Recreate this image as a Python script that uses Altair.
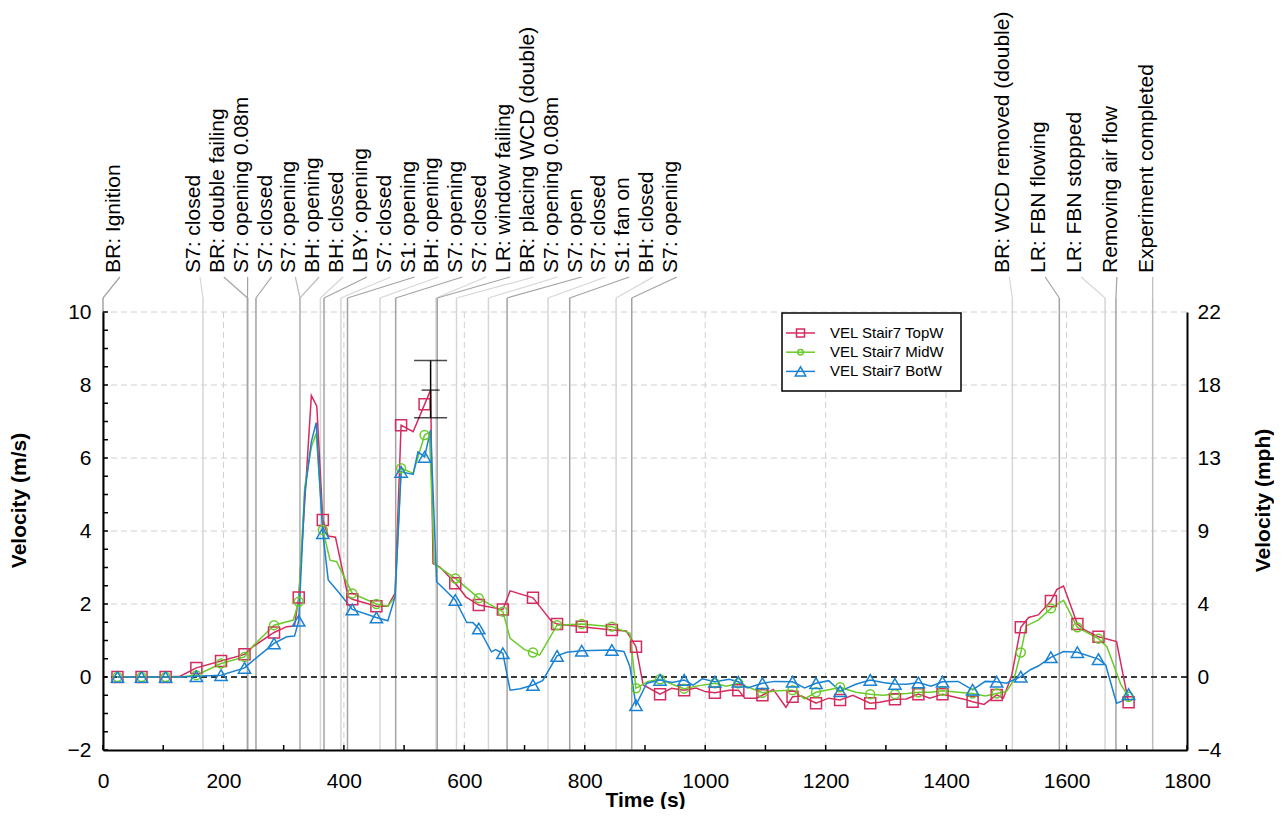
import altair as alt
import pandas as pd

# ---------------- data ----------------
series_names = ["VEL Stair7 TopW", "VEL Stair7 MidW", "VEL Stair7 BotW"]

top_t = [24, 64, 104, 128, 155, 196, 235, 249, 284, 305, 318, 325, 346, 355, 365, 374, 386, 407, 414, 454,
         473, 485, 495, 515, 534, 544, 548, 559, 585, 603, 624, 664, 676, 714, 745, 754, 795, 845, 869, 885,
         897, 925, 944, 965, 985, 1000, 1016, 1040, 1055, 1066, 1085, 1095, 1113, 1134, 1145, 1160, 1184, 1205, 1224, 1245,
         1274, 1290, 1315, 1334, 1354, 1373, 1394, 1428, 1444, 1463, 1484, 1495, 1509, 1524, 1537, 1553, 1574, 1584, 1595, 1618,
         1630, 1653, 1683, 1694, 1703]
top_v = [0, 0, 0, 0.02, 0.25, 0.44, 0.62, 0.83, 1.22, 1.38, 1.40, 2.18, 7.71, 7.42, 4.30, 3.86, 3.83, 2.20, 2.13, 1.94,
         1.94, 2.30, 6.90, 6.72, 7.47, 7.86, 3.11, 3.02, 2.57, 2.19, 1.97, 1.85, 2.36, 2.17, 1.52, 1.45, 1.38, 1.29, 1.26, 0.83,
         -0.22, -0.47, -0.31, -0.36, -0.30, -0.40, -0.43, -0.36, -0.36, -0.58, -0.58, -0.50, -0.34, -0.83, -0.54, -0.52, -0.72, -0.58, -0.63, -0.50,
         -0.72, -0.69, -0.61, -0.60, -0.47, -0.58, -0.47, -0.60, -0.68, -0.75, -0.49, -0.58, 0.05, 1.36, 1.63, 1.70, 2.08, 2.40, 2.49, 1.45,
         1.29, 1.10, 0.97, 0.05, -0.69]

mid_t = [24, 64, 104, 128, 155, 196, 235, 249, 284, 316, 325, 335, 346, 354, 365, 377, 388, 414, 454, 473,
         485, 495, 515, 534, 542, 550, 585, 624, 664, 676, 700, 714, 725, 754, 795, 845, 875, 885, 905, 925,
         945, 965, 985, 1016, 1035, 1055, 1075, 1095, 1120, 1145, 1165, 1184, 1205, 1224, 1250, 1274, 1295, 1315, 1335, 1354,
         1375, 1394, 1420, 1444, 1465, 1484, 1500, 1512, 1524, 1533, 1553, 1574, 1595, 1618, 1653, 1667, 1690, 1703]
mid_v = [0, 0, 0, 0, 0.05, 0.37, 0.55, 0.85, 1.42, 1.56, 2.06, 5.20, 6.30, 6.68, 4.03, 3.20, 3.16, 2.29, 2.00, 1.94,
         2.20, 5.72, 5.58, 6.63, 6.70, 3.10, 2.70, 2.16, 1.79, 1.06, 0.75, 0.67, 0.60, 1.42, 1.45, 1.38, 1.20, -0.31, -0.12, -0.06,
         -0.20, -0.32, -0.25, -0.17, -0.25, -0.17, -0.30, -0.43, -0.38, -0.36, -0.60, -0.42, -0.35, -0.28, -0.42, -0.47, -0.50, -0.47, -0.45, -0.42,
         -0.42, -0.38, -0.42, -0.45, -0.52, -0.45, -0.40, -0.10, 0.67, 1.40, 1.56, 1.88, 2.10, 1.36, 1.05, 0.83, -0.20, -0.54]

bot_t = [24, 64, 104, 128, 155, 196, 235, 249, 284, 305, 318, 325, 335, 346, 354, 365, 374, 393, 414, 454,
         473, 485, 495, 515, 523, 534, 544, 554, 585, 604, 614, 624, 645, 652, 664, 676, 693, 714, 730, 754,
         770, 795, 845, 865, 875, 885, 903, 925, 945, 965, 980, 995, 1016, 1040, 1055, 1070, 1095, 1115, 1145, 1165,
         1184, 1205, 1224, 1250, 1274, 1295, 1315, 1335, 1354, 1375, 1394, 1420, 1444, 1465, 1484, 1500, 1524, 1540, 1553, 1574,
         1595, 1618, 1653, 1665, 1683, 1694, 1703]
bot_v = [0, 0, 0, 0, 0.02, 0.05, 0.25, 0.45, 0.92, 1.10, 1.12, 1.54, 5.03, 6.45, 6.97, 3.94, 2.66, 2.29, 1.85, 1.63,
         1.54, 2.20, 5.62, 5.55, 6.17, 6.03, 6.77, 2.61, 2.11, 1.49, 1.49, 1.33, 0.69, 0.75, 0.65, -0.36, -0.32, -0.22, -0.10, 0.58,
         0.68, 0.72, 0.74, 0.70, 0.28, -0.77, -0.17, -0.08, -0.15, -0.08, -0.22, -0.05, -0.13, -0.06, -0.13, -0.30, -0.17, -0.12, -0.13, -0.30,
         -0.17, -0.10, -0.39, -0.20, -0.08, -0.15, -0.19, -0.20, -0.15, -0.25, -0.13, -0.12, -0.35, -0.12, -0.13, -0.17, 0.01, 0.20, 0.30, 0.54,
         0.70, 0.68, 0.49, 0.33, -0.72, -0.65, -0.47]

marker_t = [24, 64, 104, 155, 196, 235, 284, 325, 365, 414, 454, 495, 534, 585, 624, 664, 714, 754, 795, 845,
            885, 925, 965, 1016, 1055, 1095, 1145, 1184, 1224, 1274, 1315, 1354, 1394, 1444, 1484, 1524, 1574, 1618, 1653, 1703]

# uncertainty bar on the TopW peak
err_t = [544]
err_mid = [7.86]
err_lo = [7.10]
err_hi = [8.67]

event_t = [0, 166, 240, 240, 254, 327, 327, 361, 367, 395, 406, 460, 486, 553, 555, 587, 640, 671, 739, 775, 852, 878,
           1510, 1588, 1664, 1682, 1743]
event_label = ["BR: Ignition", "S7: closed", "BR: double failing", "S7: opening 0.08m", "S7: closed", "S7: opening",
               "BH: opening", "BH: closed", "LBY: opening", "S7: closed", "S1: opening", "BH: opening", "S7: opening",
               "S7: closed", "LR: window failing", "BR: placing WCD (double)", "S7: opening 0.08m", "S7: open",
               "S7: closed", "S1: fan on", "BH: closed", "S7: opening", "BR: WCD removed (double)", "LR: FBN flowing",
               "LR: FBN stopped", "Removing air flow", "Experiment completed"]

x_ticks = list(range(0, 1801, 200))
y_ticks = list(range(-2, 11, 2))

# ---------------- styles ----------------
series_colors = ["#d42c5e", "#6acb2a", "#1a82d2"]
series_shapes = ["square", "circle", "triangle-up"]
series_sizes = [121, 80, 150]
legend_sizes = [64, 30, 110]
event_shade_code = "dldddmmldldldldlldldldldldm"
shade_map = {"d": "#a3a3a3", "m": "#bdbdbd", "l": "#d6d6d6"}
FONT = "Liberation Sans"
W, H = 1084, 438
LABEL_GAP = 39.6      # minimum spacing of event labels, in seconds
LABEL_MIN = 28        # leftmost label anchor, in seconds
LABEL_LEAD = 5        # labels of a group start slightly left of its first event
GROUP_BREAK = 150     # events further apart than this start a new label group

# ---------------- frames ----------------
rows = []
for name, ts, vs in [(series_names[0], top_t, top_v), (series_names[1], mid_t, mid_v), (series_names[2], bot_t, bot_v)]:
    for t, v in zip(ts, vs, strict=True):
        rows.append({"series": name, "t": t, "v": v, "marker": t in marker_t})
data = pd.DataFrame(rows)

# spread the event labels: evenly inside each group of nearby events
groups = []
for i, e in enumerate(event_t):
    if i == 0 or e - event_t[i - 1] > GROUP_BREAK:
        groups.append([i])
    else:
        groups[-1].append(i)
label_pos = [0.0] * len(event_t)
for g in groups:
    first, last = event_t[g[0]], event_t[g[-1]]
    if len(g) == 1:
        label_pos[g[0]] = max(first, LABEL_MIN)
        continue
    start = max(first - LABEL_LEAD, LABEL_MIN)
    step = max(LABEL_GAP, (last - start) / (len(g) - 1))
    for k, i in enumerate(g):
        label_pos[i] = start + k * step

events = pd.DataFrame({"t": event_t, "label": event_label, "pos": label_pos,
                       "shade": [shade_map[c] for c in event_shade_code]})

err = pd.DataFrame({"t": err_t, "mid": err_mid, "lo": err_lo, "hi": err_hi})

xs = alt.Scale(domain=[0, 1800], nice=False, zero=False)
ys = alt.Scale(domain=[-2, 10], nice=False, zero=False)

x_axis = alt.Axis(title="Time (s)", values=x_ticks, format="d", grid=False, ticks=False, tickSize=0,
                  domainColor="black", domainWidth=2, labelFont=FONT, labelFontSize=21, labelColor="black",
                  labelPadding=20, labelFlush=False, labelOverlap=False,
                  titleFont=FONT, titleFontSize=21, titleFontWeight="bold", titleColor="black",
                  titleY=50, titleBaseline="middle", zindex=1)
y_axis = alt.Axis(title="Velocity (m/s)", values=y_ticks, format="d", grid=False, ticks=False, tickSize=0,
                  domainColor="black", domainWidth=2, labelFont=FONT, labelFontSize=21, labelColor="black",
                  labelPadding=12, labelFlush=False, labelOverlap=False,
                  titleFont=FONT, titleFontSize=21, titleFontWeight="bold", titleColor="black",
                  titleX=-84, titleY=188, titleAngle=270, titleBaseline="middle", zindex=1)
y_axis_r = alt.Axis(title="Velocity (mph)", orient="right", values=y_ticks, grid=False, ticks=False, tickSize=0,
                    domainColor="black", domainWidth=2, labelFont=FONT, labelFontSize=21, labelColor="black",
                    labelPadding=10, labelFlush=False, labelOverlap=False,
                    labelExpr="format(datum.value * 2.23694, '.0f')",
                    titleFont=FONT, titleFontSize=21, titleFontWeight="bold", titleColor="black",
                    titleX=76, titleY=188, titleAngle=270, titleBaseline="middle", zindex=1)


def X(field):
    return alt.X(field, scale=xs, axis=x_axis)


def Y(field):
    return alt.Y(field, scale=ys, axis=y_axis)


grid_h = alt.Chart(pd.DataFrame({"gy": [v for v in y_ticks if v > -2]})).mark_rule(
    color="#d0d0d0", strokeWidth=1, strokeDash=[6, 4]).encode(y=Y("gy:Q"))
grid_v = alt.Chart(pd.DataFrame({"gx": [v for v in x_ticks if 0 < v < 1800]})).mark_rule(
    color="#d0d0d0", strokeWidth=1, strokeDash=[6, 4]).encode(x=X("gx:Q"))

ev_lines = alt.Chart(events).mark_rule(strokeWidth=1.5).encode(
    x=X("t:Q"), y=alt.value(-14), y2=alt.value(H), color=alt.Color("shade:N", scale=None))
ev_conn = alt.Chart(events).mark_rule(strokeWidth=1.2).encode(
    x=X("pos:Q"), x2="t:Q", y=alt.value(-35), y2=alt.value(-14), color=alt.Color("shade:N", scale=None))
ev_text = alt.Chart(events).mark_text(angle=270, align="left", baseline="middle", dy=-6,
                                      fontSize=21, font=FONT, color="black").encode(
    x=X("pos:Q"), y=alt.value(-39), text="label:N")

zero = alt.Chart(pd.DataFrame({"z": [0]})).mark_rule(color="black", strokeWidth=1.5, strokeDash=[6, 4]).encode(
    y=Y("z:Q"))

series_layers = []
for name, col in zip(series_names, series_colors):
    base = alt.Chart(data).transform_filter(alt.datum.series == name)
    series_layers.append(base.mark_line(color=col, strokeWidth=1.5).encode(x=X("t:Q"), y=Y("v:Q")))
for name, col, shp, sz in zip(series_names, series_colors, series_shapes, series_sizes):
    base = alt.Chart(data).transform_filter((alt.datum.series == name) & alt.datum.marker)
    series_layers.append(base.mark_point(color=col, shape=shp, size=sz, filled=False, strokeWidth=1.5,
                                         opacity=1).encode(x=X("t:Q"), y=Y("v:Q")))

err_rule = alt.Chart(err).mark_rule(color="black", strokeWidth=1.5).encode(x=X("t:Q"), y=Y("lo:Q"), y2="hi:Q")
err_caps = [alt.Chart(err).mark_tick(orient="horizontal", size=s, thickness=1.5, color="black").encode(
    x=X("t:Q"), y=Y(f"{f}:Q")) for f, s in [("lo", 33), ("hi", 33), ("mid", 18)]]

# legend box
one = pd.DataFrame({"a": [0]})
LX0, LX1, LY0, LY1 = 679, 858, 1, 79
leg = [alt.Chart(one).mark_rect(fill="white", stroke="black", strokeWidth=1.5).encode(
    x=alt.value(LX0), x2=alt.value(LX1), y=alt.value(LY0), y2=alt.value(LY1))]
for i, (name, col, shp, sz) in enumerate(zip(series_names, series_colors, series_shapes, legend_sizes)):
    yy = 21 + 19.2 * i
    leg.append(alt.Chart(one).mark_rule(color=col, strokeWidth=1.5).encode(
        x=alt.value(683), x2=alt.value(712), y=alt.value(yy)))
    leg.append(alt.Chart(one).mark_point(color=col, shape=shp, size=sz, filled=False, strokeWidth=1.5,
                                         opacity=1).encode(x=alt.value(697.5), y=alt.value(yy)))
    leg.append(alt.Chart(one).mark_text(text=name, align="left", baseline="middle", fontSize=15, font=FONT,
                                        color="black").encode(x=alt.value(727), y=alt.value(yy)))

# inward tick marks
yt = pd.DataFrame({"yt": [v / 2 for v in range(-4, 21)]})
xt = pd.DataFrame({"xt": list(range(0, 1801, 100))})
ticks_y = alt.Chart(yt).mark_rule(color="black", strokeWidth=1.5).encode(
    y=Y("yt:Q"), x=alt.value(0), x2=alt.value(5))
ticks_x = alt.Chart(xt).mark_rule(color="black", strokeWidth=1.5).encode(
    x=X("xt:Q"), y=alt.value(H), y2=alt.value(H - 5))

main = alt.layer(grid_h, grid_v, ev_lines, ev_conn, ev_text, zero, *series_layers,
                 err_rule, *err_caps, *leg, ticks_y, ticks_x)

right = alt.Chart(pd.DataFrame({"v": [-2, 10]})).mark_point(opacity=0).encode(
    y=alt.Y("v:Q", scale=alt.Scale(domain=[-2, 10], nice=False, zero=False), axis=y_axis_r))

chart = alt.layer(main, right).resolve_scale(y="independent").properties(
    width=W, height=H,
    padding={"left": 95, "top": 304, "right": 87, "bottom": 59},
    autosize=alt.AutoSizeParams(type="none"),
    background="white",
).configure_view(strokeWidth=0)

chart.save("out.html", embed_options={"renderer": "svg", "actions": False})
